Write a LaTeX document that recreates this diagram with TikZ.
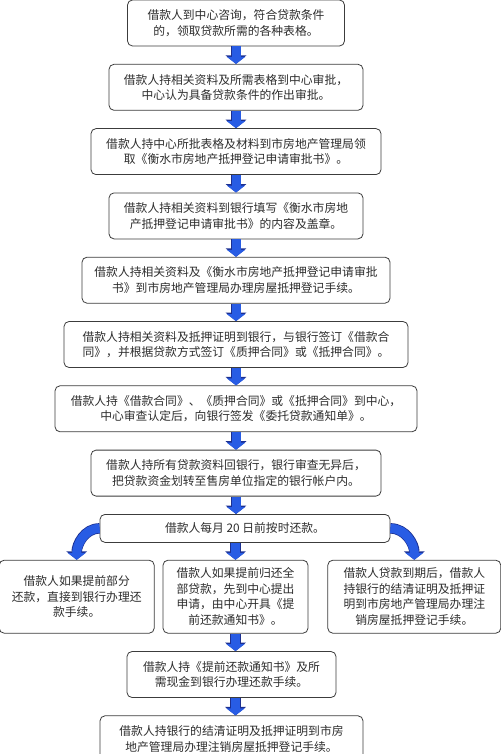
\documentclass[tikz,border=0pt]{standalone}
\usepackage{fontspec}
\setmainfont{Noto Sans CJK SC}
\usetikzlibrary{positioning,arrows.meta}
\definecolor{arrowblue}{RGB}{40,92,228}
\definecolor{arrowedge}{RGB}{28,48,145}
\definecolor{boxline}{RGB}{60,60,60}
\definecolor{textgray}{RGB}{45,45,45}

\begin{document}
\begin{tikzpicture}[x=1pt,y=-1pt,
      arrowstyle/.style={draw=arrowblue, line width=9pt, -{Triangle[length=7pt,width=18pt]},
        preaction={draw=arrowedge, line width=10.5pt, -{Triangle[length=8.5pt,width=20.5pt]}}}]
      % A box style
      \tikzstyle{boxnode} = [draw=boxline, line width=0.8pt, rounded corners=5pt, fill=white, text=textgray,
        align=center, minimum height=46pt, inner sep=3pt, font=\fontsize{11.8pt}{15.5pt}\selectfont]
      \useasboundingbox (0,0) rectangle (500,754);

      % Place the main steps (top to bottom)
      \node (consult)  [boxnode, minimum width=217pt] at (236,23) {借款人到中心咨询，符合贷款条件\\的，领取贷款所需的各种表格。};
      \node (approve)  [boxnode, minimum width=254pt, below=17.5pt of consult] {借款人持相关资料及所需表格到中心审批，\\中心认为具备贷款条件的作出审批。};
      \node (collect)  [boxnode, minimum width=290pt, below=17.5pt of approve] {借款人持中心所批表格及材料到市房地产管理局领\\取《衡水市房地产抵押登记申请审批书》。};
      \node (fillform) [boxnode, minimum width=254pt, below=17.5pt of collect] {借款人持相关资料到银行填写《衡水市房地\\产抵押登记申请审批书》的内容及盖章。};
      \node (register) [boxnode, minimum width=308pt, below=17.5pt of fillform] {借款人持相关资料及《衡水市房地产抵押登记申请审批\\书》到市房地产管理局办理房屋抵押登记手续。};
      \node (contract) [boxnode, minimum width=344pt, below=17.5pt of register] {借款人持相关资料及抵押证明到银行，与银行签订《借款合\\同》，并根据贷款方式签订《质押合同》或《抵押合同》。};
      \node (notice)   [boxnode, minimum width=362pt, below=17.5pt of contract] {借款人持《借款合同》、《质押合同》或《抵押合同》到中心，\\中心审查认定后，向银行签发《委托贷款通知单》。};
      \node (transfer) [boxnode, minimum width=290pt, below=17.5pt of notice] {借款人持所有贷款资料回银行，银行审查无异后，\\把贷款资金划转至售房单位指定的银行帐户内。};
      \node (repay)    [boxnode, minimum width=290pt, minimum height=28pt, below=17.5pt of transfer, xshift=9pt] {借款人每月 20 日前按时还款。};

      % The three ways of paying back
      \node (fullpay)  [boxnode, minimum width=145pt, minimum height=73pt, below=17pt of repay, xshift=-9.5pt] {借款人如果提前归还全\\部贷款，先到中心提出\\申请，由中心开具《提\\前还款通知书》。};
      \node (partpay)  [boxnode, minimum width=155pt, minimum height=73pt, left=8pt of fullpay] {借款人如果提前部分\\还款，直接到银行办理还\\款手续。};
      \node (expire)   [boxnode, minimum width=173pt, minimum height=73pt, right=19pt of fullpay] {借款人贷款到期后，借款人\\持银行的结清证明及抵押证\\明到市房地产管理局办理注\\销房屋抵押登记手续。};
      \node (advance)  [boxnode, minimum width=209pt, below=17.5pt of fullpay, xshift=-4pt] {借款人持《提前还款通知书》及所\\需现金到银行办理还款手续。};
      \node (cancel)   [boxnode, minimum width=263pt, below=17.5pt of advance] {借款人持银行的结清证明及抵押证明到市房\\地产管理局办理注销房屋抵押登记手续。};

      % Draw the block arrows downwards
      \draw[arrowstyle] (consult) -- (approve);
      \draw[arrowstyle] (approve) -- (collect);
      \draw[arrowstyle] (collect) -- (fillform);
      \draw[arrowstyle] (fillform) -- (register);
      \draw[arrowstyle] (register) -- (contract);
      \draw[arrowstyle] (contract) -- (notice);
      \draw[arrowstyle] (notice) -- (transfer);
      \draw[arrowstyle] (transfer.south) -- (transfer.south |- repay.north);
      \draw[arrowstyle] (fullpay.north |- repay.south) -- (fullpay.north);
      \draw[arrowstyle] (fullpay.south) -- (fullpay.south |- advance.north);
      \draw[arrowstyle] (advance.south -| fullpay.south) -- (fullpay.south |- cancel.north);

      % Curved arrows to the side boxes
      \draw[arrowstyle] (repay.west) to[out=180,in=90] (partpay.north);
      \draw[arrowstyle] (repay.east) to[out=0,in=90] (expire.north);
\end{tikzpicture}
\end{document}
